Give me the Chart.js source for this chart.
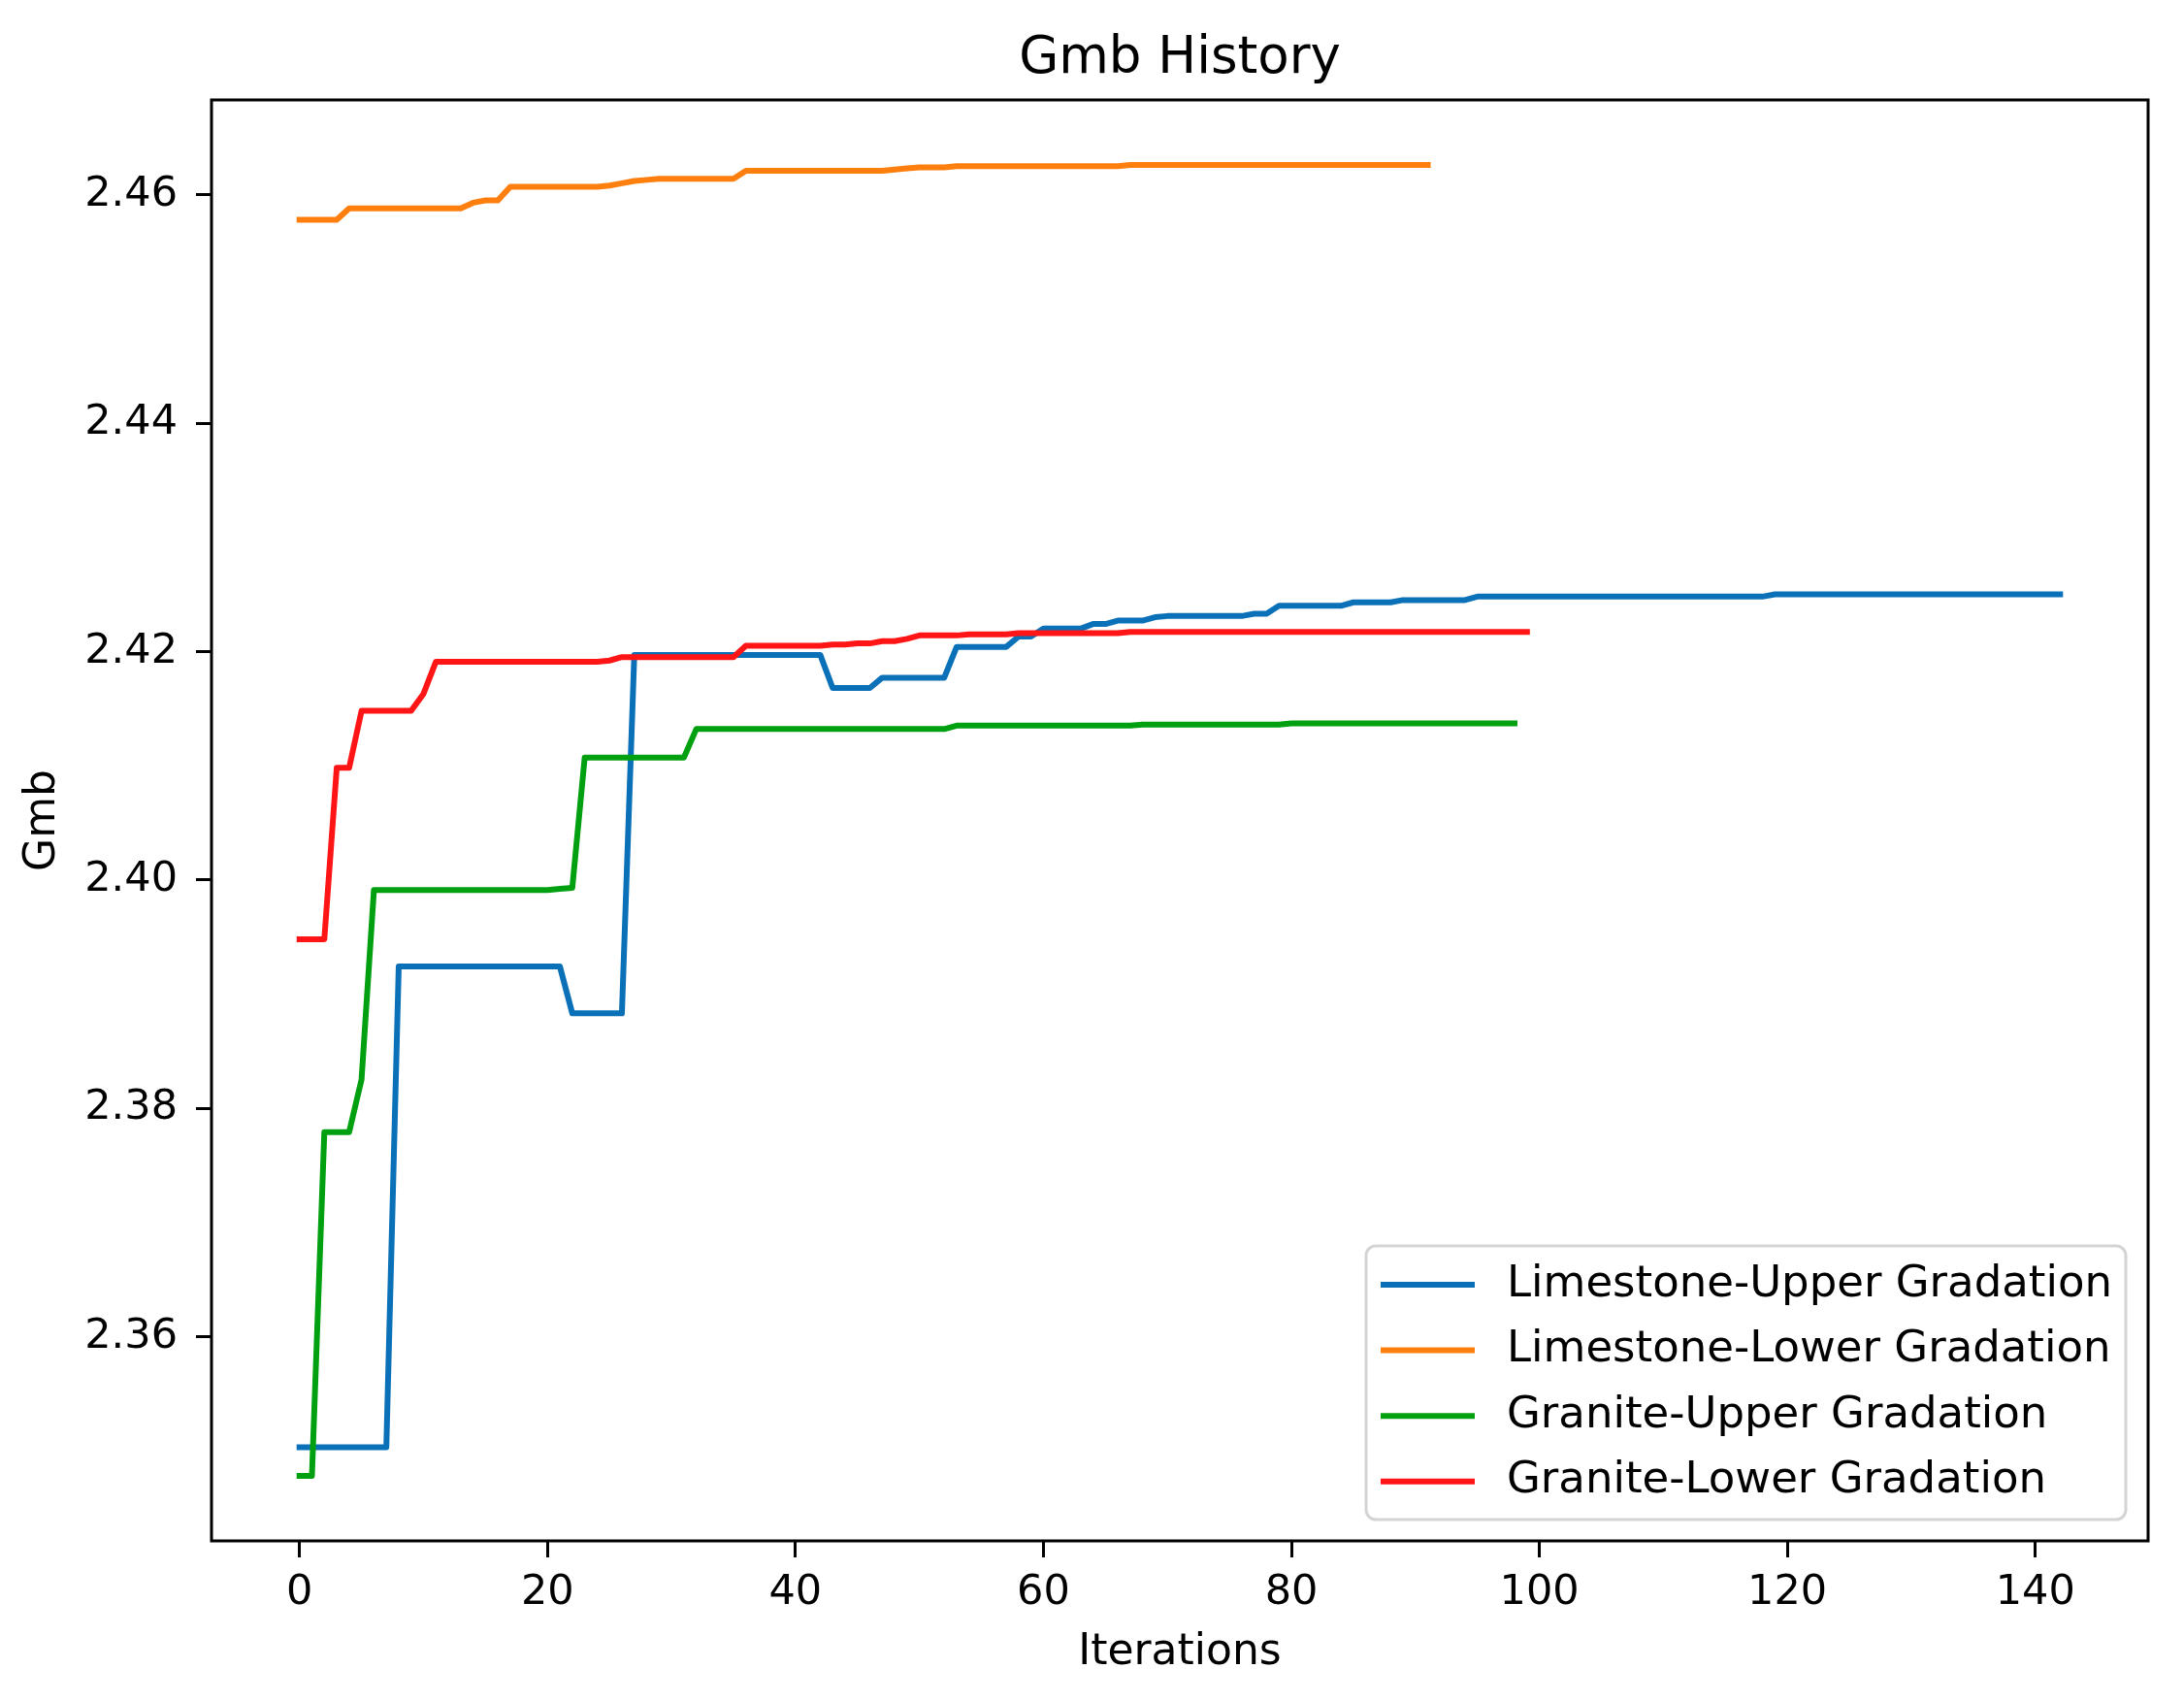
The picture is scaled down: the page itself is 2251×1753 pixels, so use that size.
<!DOCTYPE html>
<html>
<head>
<meta charset="utf-8">
<title>Gmb History</title>
<script src="https://cdn.jsdelivr.net/npm/chart.js@4.4.1/dist/chart.umd.min.js"></script>
<style>
  html, body { margin: 0; padding: 0; background: #fff; }
  #wrap { width: 2251px; height: 1753px; }
</style>
</head>
<body>
<div id="wrap"><canvas id="graficoGmb" width="2251" height="1753"></canvas></div>
<script>
// Gmb por iteração (x = índice da iteração)
const limestoneUpper = [
  2.3503, 2.3503, 2.3503, 2.3503, 2.3503, 2.3503, 2.3503, 2.3503, 2.3924, 2.3924,
  2.3924, 2.3924, 2.3924, 2.3924, 2.3924, 2.3924, 2.3924, 2.3924, 2.3924, 2.3924,
  2.3924, 2.3924, 2.3883, 2.3883, 2.3883, 2.3883, 2.3883, 2.4197, 2.4197, 2.4197,
  2.4197, 2.4197, 2.4197, 2.4197, 2.4197, 2.4197, 2.4197, 2.4197, 2.4197, 2.4197,
  2.4197, 2.4197, 2.4197, 2.4168, 2.4168, 2.4168, 2.4168, 2.4177, 2.4177, 2.4177,
  2.4177, 2.4177, 2.4177, 2.4204, 2.4204, 2.4204, 2.4204, 2.4204, 2.4213, 2.4213,
  2.4220, 2.4220, 2.4220, 2.4220, 2.4224, 2.4224, 2.4227, 2.4227, 2.4227, 2.4230,
  2.4231, 2.4231, 2.4231, 2.4231, 2.4231, 2.4231, 2.4231, 2.4233, 2.4233, 2.4240,
  2.4240, 2.4240, 2.4240, 2.4240, 2.4240, 2.4243, 2.4243, 2.4243, 2.4243, 2.4245,
  2.4245, 2.4245, 2.4245, 2.4245, 2.4245, 2.4248, 2.4248, 2.4248, 2.4248, 2.4248,
  2.4248, 2.4248, 2.4248, 2.4248, 2.4248, 2.4248, 2.4248, 2.4248, 2.4248, 2.4248,
  2.4248, 2.4248, 2.4248, 2.4248, 2.4248, 2.4248, 2.4248, 2.4248, 2.4248, 2.4250,
  2.4250, 2.4250, 2.4250, 2.4250, 2.4250, 2.4250, 2.4250, 2.4250, 2.4250, 2.4250,
  2.4250, 2.4250, 2.4250, 2.4250, 2.4250, 2.4250, 2.4250, 2.4250, 2.4250, 2.4250,
  2.4250, 2.4250, 2.4250
];

const limestoneLower = [
  2.4578, 2.4578, 2.4578, 2.4578, 2.4588, 2.4588, 2.4588, 2.4588, 2.4588, 2.4588,
  2.4588, 2.4588, 2.4588, 2.4588, 2.4593, 2.4595, 2.4595, 2.4607, 2.4607, 2.4607,
  2.4607, 2.4607, 2.4607, 2.4607, 2.4607, 2.4608, 2.4610, 2.4612, 2.4613, 2.4614,
  2.4614, 2.4614, 2.4614, 2.4614, 2.4614, 2.4614, 2.4621, 2.4621, 2.4621, 2.4621,
  2.4621, 2.4621, 2.4621, 2.4621, 2.4621, 2.4621, 2.4621, 2.4621, 2.4622, 2.4623,
  2.4624, 2.4624, 2.4624, 2.4625, 2.4625, 2.4625, 2.4625, 2.4625, 2.4625, 2.4625,
  2.4625, 2.4625, 2.4625, 2.4625, 2.4625, 2.4625, 2.4625, 2.4626, 2.4626, 2.4626,
  2.4626, 2.4626, 2.4626, 2.4626, 2.4626, 2.4626, 2.4626, 2.4626, 2.4626, 2.4626,
  2.4626, 2.4626, 2.4626, 2.4626, 2.4626, 2.4626, 2.4626, 2.4626, 2.4626, 2.4626,
  2.4626, 2.4626
];

const graniteUpper = [
  2.3478, 2.3478, 2.3779, 2.3779, 2.3779, 2.3825, 2.3991, 2.3991, 2.3991, 2.3991,
  2.3991, 2.3991, 2.3991, 2.3991, 2.3991, 2.3991, 2.3991, 2.3991, 2.3991, 2.3991,
  2.3991, 2.3992, 2.3993, 2.4107, 2.4107, 2.4107, 2.4107, 2.4107, 2.4107, 2.4107,
  2.4107, 2.4107, 2.4132, 2.4132, 2.4132, 2.4132, 2.4132, 2.4132, 2.4132, 2.4132,
  2.4132, 2.4132, 2.4132, 2.4132, 2.4132, 2.4132, 2.4132, 2.4132, 2.4132, 2.4132,
  2.4132, 2.4132, 2.4132, 2.4135, 2.4135, 2.4135, 2.4135, 2.4135, 2.4135, 2.4135,
  2.4135, 2.4135, 2.4135, 2.4135, 2.4135, 2.4135, 2.4135, 2.4135, 2.4136, 2.4136,
  2.4136, 2.4136, 2.4136, 2.4136, 2.4136, 2.4136, 2.4136, 2.4136, 2.4136, 2.4136,
  2.4137, 2.4137, 2.4137, 2.4137, 2.4137, 2.4137, 2.4137, 2.4137, 2.4137, 2.4137,
  2.4137, 2.4137, 2.4137, 2.4137, 2.4137, 2.4137, 2.4137, 2.4137, 2.4137
];

const graniteLower = [
  2.3948, 2.3948, 2.3948, 2.4098, 2.4098, 2.4148, 2.4148, 2.4148, 2.4148, 2.4148,
  2.4163, 2.4191, 2.4191, 2.4191, 2.4191, 2.4191, 2.4191, 2.4191, 2.4191, 2.4191,
  2.4191, 2.4191, 2.4191, 2.4191, 2.4191, 2.4192, 2.4195, 2.4195, 2.4195, 2.4195,
  2.4195, 2.4195, 2.4195, 2.4195, 2.4195, 2.4195, 2.4205, 2.4205, 2.4205, 2.4205,
  2.4205, 2.4205, 2.4205, 2.4206, 2.4206, 2.4207, 2.4207, 2.4209, 2.4209, 2.4211,
  2.4214, 2.4214, 2.4214, 2.4214, 2.4215, 2.4215, 2.4215, 2.4215, 2.4216, 2.4216,
  2.4216, 2.4216, 2.4216, 2.4216, 2.4216, 2.4216, 2.4216, 2.4217, 2.4217, 2.4217,
  2.4217, 2.4217, 2.4217, 2.4217, 2.4217, 2.4217, 2.4217, 2.4217, 2.4217, 2.4217,
  2.4217, 2.4217, 2.4217, 2.4217, 2.4217, 2.4217, 2.4217, 2.4217, 2.4217, 2.4217,
  2.4217, 2.4217, 2.4217, 2.4217, 2.4217, 2.4217, 2.4217, 2.4217, 2.4217, 2.4217
];

const seriesNames = [
  "Limestone-Upper Gradation",
  "Limestone-Lower Gradation",
  "Granite-Upper Gradation",
  "Granite-Lower Gradation",
];
const seriesColors = ["#0a70b8", "#ff7f0e", "#00a010", "#ff1515"];

const xTicks = [0, 20, 40, 60, 80, 100, 120, 140];
const yTicks = [2.36, 2.38, 2.40, 2.42, 2.44, 2.46];

const canvas = document.getElementById("graficoGmb");

Chart.defaults.font.family = "'DejaVu Sans', sans-serif";
Chart.defaults.color = "#000";

function pontos(valores) {
  return valores.map((v, i) => ({ x: i, y: v }));
}

const todasSeries = [limestoneUpper, limestoneLower, graniteUpper, graniteLower];

const datasets = todasSeries.map((valores, k) => ({
  label: seriesNames[k],
  data: pontos(valores),
  borderColor: seriesColors[k],
  backgroundColor: seriesColors[k],
  borderWidth: 6,
  pointRadius: 0,
  tension: 0,
  fill: false,
  borderJoinStyle: "round",
  borderCapStyle: "square",
  // ultima serie por cima, como no matplotlib
  order: todasSeries.length - k,
}));

// moldura dos quatro lados
const moldura = {
  id: "moldura",
  afterDatasetsDraw(chart) {
    const { ctx, chartArea: a } = chart;
    ctx.save();
    ctx.strokeStyle = "#000";
    ctx.lineWidth = 3;
    ctx.strokeRect(a.left, a.top, a.right - a.left, a.bottom - a.top);
    ctx.restore();
  },
};

// legenda dentro do grafico, canto inferior direito
const legenda = {
  id: "legenda",
  afterDraw(chart) {
    const { ctx, chartArea: a } = chart;
    const w = 783;
    const h = 282;
    const x = a.right - 23 - w;
    const y = a.bottom - 22 - h;
    ctx.save();
    ctx.beginPath();
    ctx.roundRect(x, y, w, h, 10);
    ctx.fillStyle = "rgba(255,255,255,0.8)";
    ctx.fill();
    ctx.strokeStyle = "#d4d4d4";
    ctx.lineWidth = 3;
    ctx.stroke();
    ctx.font = "45px 'DejaVu Sans'";
    ctx.textBaseline = "middle";
    ctx.textAlign = "left";
    seriesNames.forEach((nome, k) => {
      const ly = y + 40 + k * 67.6;
      ctx.beginPath();
      ctx.moveTo(x + 15, ly);
      ctx.lineTo(x + 112, ly);
      ctx.strokeStyle = seriesColors[k];
      ctx.lineWidth = 6;
      ctx.lineCap = "butt";
      ctx.stroke();
      ctx.fillStyle = "#000";
      ctx.fillText(nome, x + 145, ly);
    });
    ctx.restore();
  },
};

new Chart(canvas, {
  type: "line",
  data: { datasets },
  options: {
    responsive: false,
    animation: false,
    events: [],
    layout: { padding: { top: 0, right: 37, bottom: 0, left: 0 } },
    plugins: {
      legend: { display: false },
      tooltip: { enabled: false },
      title: {
        display: true,
        text: "Gmb History",
        fullSize: false,
        color: "#000",
        font: { size: 53, weight: "normal" },
        padding: { top: 29, bottom: 10.4 },
      },
    },
    scales: {
      x: {
        type: "linear",
        min: -7.1,
        max: 149.1,
        afterBuildTicks: (s) => {
          s.ticks = xTicks.map((v) => ({ value: v }));
        },
        afterFit: (s) => {
          s.height = 165;
        },
        ticks: {
          color: "#000",
          font: { size: 43 },
          padding: 11,
          maxRotation: 0,
          autoSkip: false,
          callback: (v) => String(v),
        },
        grid: {
          display: true,
          drawOnChartArea: false,
          drawTicks: true,
          tickLength: 17,
          tickColor: "#000",
          tickWidth: 3,
        },
        border: { display: false },
        title: {
          display: true,
          text: "Iterations",
          color: "#000",
          font: { size: 44 },
          padding: { top: 0, bottom: 23 },
        },
      },
      y: {
        type: "linear",
        min: 2.3421,
        max: 2.4683,
        afterBuildTicks: (s) => {
          s.ticks = yTicks.map((v) => ({ value: v }));
        },
        afterFit: (s) => {
          s.width = 218;
        },
        ticks: {
          color: "#000",
          font: { size: 43 },
          padding: 19,
          autoSkip: false,
          callback: (v) => Number(v).toFixed(2),
        },
        grid: {
          display: true,
          drawOnChartArea: false,
          drawTicks: true,
          tickLength: 16,
          tickColor: "#000",
          tickWidth: 3,
        },
        border: { display: false },
        title: {
          display: true,
          text: "Gmb",
          color: "#000",
          font: { size: 44 },
          padding: { top: 18, bottom: 0 },
        },
      },
    },
  },
  plugins: [moldura, legenda],
});
</script>
</body>
</html>
